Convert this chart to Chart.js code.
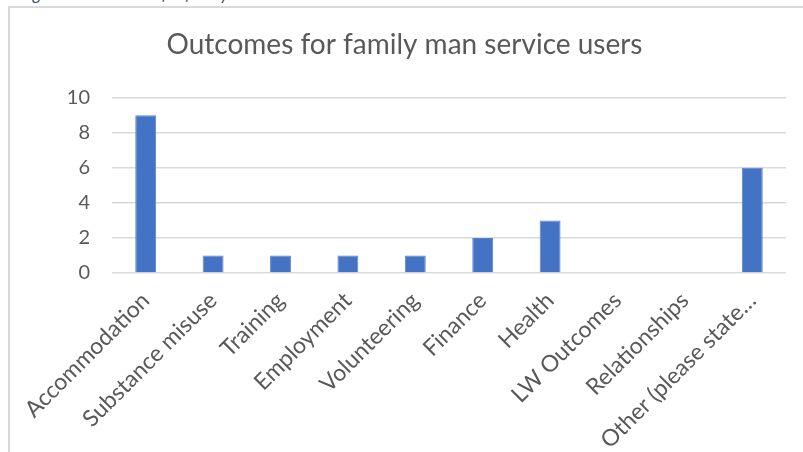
<!DOCTYPE html>
<html>

<head>
    <script src="https://cdn.jsdelivr.net/npm/chart.js@4/dist/chart.umd.min.js"></script>
    <style>
        body { margin: 0; background: #fff; overflow: hidden; }
        #caption {
            position: absolute; left: 20px; top: -17px;
            font: italic 17px Lato, sans-serif; color: #44546a; white-space: nowrap;
        }
        #frame {
            position: absolute; left: 8px; top: 6px; width: 800px; height: 450px;
            border-left: 2px solid #d9d9d9; border-top: 2px solid #d9d9d9;
        }
        #wrap { position: absolute; left: 0; top: 0; width: 803px; height: 452px; }
    </style>
</head>

<body>
    <div id="caption">Figure 5: Outcomes for family man service users</div>
    <div id="frame"></div>
    <div id="wrap"><canvas id="myChart" width="803" height="452"></canvas></div>

    <script>
        var outcomes = ["Accommodation", "Substance misuse", "Training", "Employment", "Volunteering",
            "Finance", "Health", "LW Outcomes", "Relationships", "Other (please state\u2026"];
        var counts = [9, 1, 1, 1, 1, 2, 3, 0, 0, 6];
        var yTicks = [0, 2, 4, 6, 8, 10];

        var grey = "#595959";
        var face = "Lato, 'Noto Sans', sans-serif";

        new Chart("myChart", {
            type: "bar",
            data: {
                labels: outcomes,
                datasets: [{
                    data: counts,
                    backgroundColor: "#4472c4",
                    borderColor: "#5b83cc",
                    borderWidth: 1,
                    categoryPercentage: 1,
                    barPercentage: 0.31
                }]
            },
            options: {
                responsive: false,
                animation: false,
                layout: { padding: { left: 23, right: 17, top: 0, bottom: 0 } },
                plugins: {
                    legend: { display: false },
                    tooltip: { enabled: false },
                    title: {
                        display: true,
                        text: "Outcomes for family man service users",
                        color: grey,
                        font: { family: face, size: 28, weight: "normal" },
                        padding: { top: 28, bottom: 36 }
                    }
                },
                scales: {
                    x: {
                        grid: { display: false },
                        border: { display: false },
                        ticks: {
                            color: grey,
                            font: { family: face, size: 23 },
                            minRotation: 45,
                            maxRotation: 45,
                            autoSkip: false,
                            padding: 6
                        },
                        afterFit: function (s) { s.height = 179; }
                    },
                    y: {
                        min: 0,
                        max: 10,
                        afterBuildTicks: function (s) { s.ticks = yTicks.map(function (v) { return { value: v }; }); },
                        grid: { color: "#d9d9d9", lineWidth: 1.5, drawTicks: false },
                        border: { display: false },
                        ticks: {
                            color: grey,
                            font: { family: face, size: 20 },
                            padding: 22
                        },
                        afterFit: function (s) { s.width = 89; }
                    }
                }
            }
        });
    </script>
</body>

</html>
